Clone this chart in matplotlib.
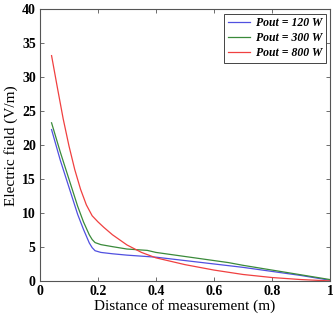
import matplotlib
matplotlib.use("Agg")
import matplotlib.pyplot as plt
from matplotlib.ticker import FixedLocator, FixedFormatter

x_blue = [0.04, 0.07, 0.10, 0.13, 0.15, 0.17, 0.18, 0.19, 0.21, 0.25, 0.30, 0.40, 0.50, 0.60, 0.70, 0.80, 0.90, 1.00]
y_blue = [22.3, 17.8, 13.8, 9.8, 7.6, 5.6, 4.9, 4.45, 4.2, 4.0, 3.8, 3.5, 3.0, 2.5, 2.0, 1.4, 0.8, 0.1]
x_green = [0.04, 0.07, 0.10, 0.13, 0.15, 0.17, 0.18, 0.19, 0.21, 0.25, 0.30, 0.37, 0.40, 0.50, 0.60, 0.65, 0.70, 0.80, 0.90, 1.00]
y_green = [23.3, 19.0, 15.0, 11.0, 8.7, 6.8, 6.1, 5.65, 5.35, 5.05, 4.7, 4.5, 4.2, 3.6, 3.0, 2.7, 2.3, 1.6, 0.9, 0.2]
x_red = [0.04, 0.06, 0.08, 0.10, 0.12, 0.14, 0.16, 0.18, 0.20, 0.22, 0.25, 0.30, 0.35, 0.40, 0.50, 0.60, 0.70, 0.80, 0.90, 1.00]
y_red = [33.2, 28.5, 23.9, 19.9, 16.4, 13.5, 11.2, 9.6, 8.7, 7.9, 6.8, 5.3, 4.2, 3.4, 2.4, 1.6, 0.95, 0.5, 0.2, 0.0]
labels = ["Pout = 120 W", "Pout = 300 W", "Pout = 800 W"]
xticks = [0, 0.2, 0.4, 0.6, 0.8, 1.0]
xticklabels = ["0", "0.2", "0.4", "0.6", "0.8", "1"]
yticks = [0, 5, 10, 15, 20, 25, 30, 35, 40]

plt.rcParams['font.family'] = ['Liberation Serif', 'DejaVu Serif']

fig = plt.figure(figsize=(3.33, 3.16), dpi=100)
ax = fig.add_axes([0.120, 0.111, 0.871, 0.859])
ax.plot(x_blue, y_blue, color='#5050e0', lw=0.9, label=labels[0])
ax.plot(x_green, y_green, color='#3a8a3a', lw=0.9, label=labels[1])
ax.plot(x_red, y_red, color='#f04040', lw=0.9, label=labels[2])
ax.set_xlim(0, 1)
ax.set_ylim(0, 40)
ax.xaxis.set_major_locator(FixedLocator(xticks))
ax.xaxis.set_major_formatter(FixedFormatter(xticklabels))
ax.set_yticks(yticks)
ax.tick_params(direction='in', top=True, right=True, length=3, width=0.6, color='#555555', labelsize=10, pad=3)
for lab in ax.get_xticklabels() + ax.get_yticklabels():
    lab.set_fontweight('bold')
for s in ax.spines.values():
    s.set_color('#555555')
    s.set_linewidth(0.8)
ax.set_xlabel('Distance of measurement (m)', fontsize=11, labelpad=1)
ax.set_ylabel('Electric field (V/m)', fontsize=11, labelpad=3)
leg = ax.legend(loc='upper right', prop={'style': 'italic', 'weight': 'bold', 'size': 8.5},
                fancybox=False, edgecolor='#444444', framealpha=1, borderaxespad=0.35,
                handlelength=1.9, handletextpad=0.5, borderpad=0.3, labelspacing=0.25)
leg.get_frame().set_linewidth(0.7)
fig.savefig('out.png', dpi=100)
